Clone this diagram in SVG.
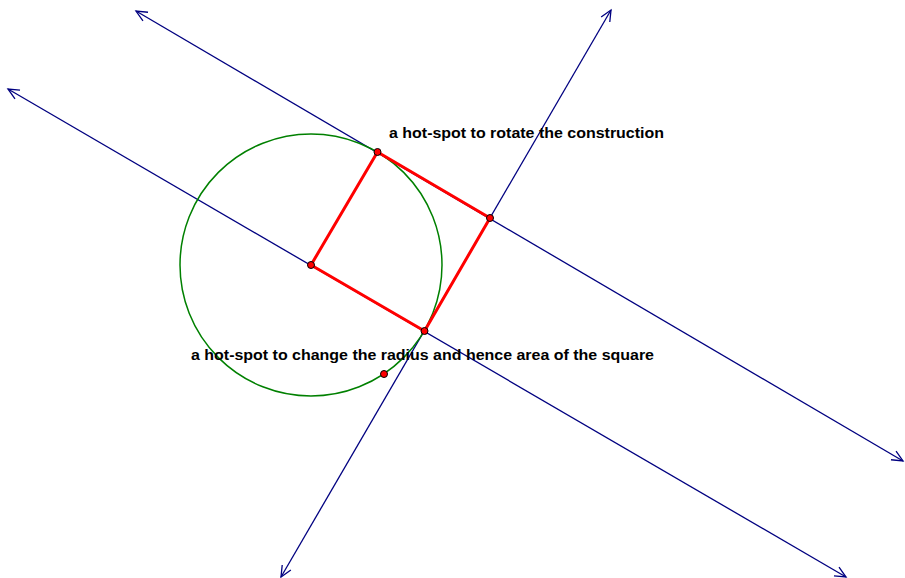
<svg xmlns="http://www.w3.org/2000/svg" width="905" height="578" viewBox="0 0 905 578">
<style>
.ln{stroke:#000080;stroke-width:1.3;fill:none;marker-start:url(#arr);marker-end:url(#arr)}
.sq{stroke:#ff0000;stroke-width:3;fill:none;stroke-linejoin:round}
.pt{fill:#ff0000;stroke:#000;stroke-width:1}
.lbl{font-family:"Liberation Sans",Arial,sans-serif;font-weight:bold;font-size:15px;fill:#000}
</style>
<defs>
<marker id="arr" markerUnits="userSpaceOnUse" markerWidth="14" markerHeight="14" viewBox="-12 -7 14 14" refX="0" refY="0" orient="auto-start-reverse">
<path d="M-11,-5 L0,0 L-11,5" fill="none" stroke="#000080" stroke-width="1.3"/>
</marker>
</defs>
<rect width="905" height="578" fill="#fff"/>
<g id="connectors">
<line id="line-center" class="ln" x1="8" y1="89" x2="846" y2="577"/>
<line id="line-top" class="ln" x1="136" y1="11" x2="903" y2="461"/>
<line id="line-perp" class="ln" x1="611" y1="10" x2="281" y2="577"/>
</g>
<g id="circle">
<circle cx="311" cy="265" r="131" fill="none" stroke="#008000" stroke-width="1.5"/>
</g>
<g id="square">
<polygon class="sq" points="311,265 377.5,152 490,218 424.5,331"/>
</g>
<g id="center"><circle class="pt" cx="311" cy="265" r="3.5"/></g>
<g id="rotate-handle"><circle class="pt" cx="377.5" cy="152" r="3.5"/></g>
<g id="corner"><circle class="pt" cx="490" cy="218" r="3.5"/></g>
<g id="bottom-corner"><circle class="pt" cx="424.5" cy="331" r="3.5"/></g>
<g id="radius-handle"><circle class="pt" cx="384" cy="374" r="3.5"/></g>
<g id="labels">
<text class="lbl" x="389" y="138" textLength="275" lengthAdjust="spacingAndGlyphs">a hot-spot to rotate the construction</text>
<text class="lbl" x="191" y="360" textLength="463" lengthAdjust="spacingAndGlyphs">a hot-spot to change the radius and hence area of the square</text>
</g>
</svg>
